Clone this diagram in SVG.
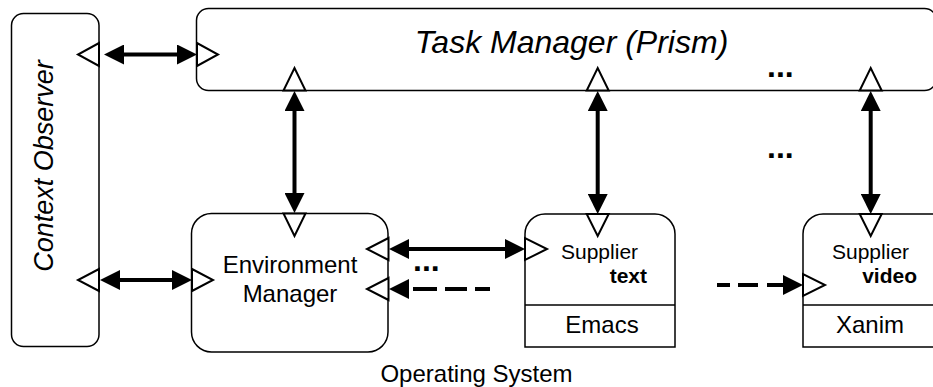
<svg xmlns="http://www.w3.org/2000/svg" width="933" height="387" viewBox="0 0 933 387">
<style>
.box{fill:#fff;stroke:#000;stroke-width:1.5}
.port{fill:#fff;stroke:#000;stroke-width:2;stroke-linejoin:miter}
.conn{stroke:#000;stroke-width:4;fill:none}
.dash{stroke:#000;stroke-width:4;fill:none}
.t{font-family:"Liberation Sans",Arial,sans-serif;fill:#000}
.it{font-style:italic}
.b{font-weight:bold}
</style>
<defs>
<marker id="head" markerUnits="userSpaceOnUse" markerWidth="20" markerHeight="20" viewBox="0 0 20 20" refX="0" refY="10" orient="auto-start-reverse">
<path d="M0,0 L20,10 L0,20 Z" fill="#000"/>
</marker>
</defs>
<g id="context-observer">
<rect class="box" x="11.5" y="13.5" width="87.5" height="333" rx="12"/>
<text class="t it" font-size="27" text-anchor="middle" transform="translate(53,166) rotate(-90)">Context Observer</text>
<polygon class="port" points="99,43 99,66 78,54.5"/>
<polygon class="port" points="99,269 99,291 78,280"/>
</g>
<g id="task-manager">
<rect class="box" x="196.5" y="8.5" width="740" height="82" rx="12"/>
<text class="t it" x="571.5" y="53" font-size="32" text-anchor="middle">Task Manager (Prism)</text>
<polygon class="port" points="197,43 197,66 218,54.5"/>
<polygon class="port" points="283.5,90.5 305.5,90.5 294.5,68"/>
<polygon class="port" points="586.7,90.5 608.7,90.5 597.7,68"/>
<polygon class="port" points="859.7,90.5 881.7,90.5 870.7,68"/>
</g>
<g id="environment-manager">
<rect class="box" x="191.5" y="213.5" width="196.5" height="138.5" rx="20"/>
<text class="t" x="290" y="273" font-size="24" text-anchor="middle">Environment</text>
<text class="t" x="290" y="302" font-size="24" text-anchor="middle">Manager</text>
<polygon class="port" points="192,269 192,291 213,280"/>
<polygon class="port" points="283.5,213.5 305.5,213.5 294.5,236"/>
<polygon class="port" points="388.5,238 388.5,260 367,249"/>
<polygon class="port" points="388.5,278 388.5,300 367,289"/>
</g>
<g id="supplier-text">
<path class="box" d="M525,347 V234 A20,20 0 0 1 545,214 H655 A20,20 0 0 1 675,234 V347 Z"/>
<line x1="525" y1="305" x2="675" y2="305" stroke="#000" stroke-width="1.5"/>
<text class="t" x="561" y="259" font-size="21">Supplier</text>
<text class="t b" x="647" y="283" font-size="21" text-anchor="end">text</text>
<text class="t" x="602" y="333" font-size="24" text-anchor="middle">Emacs</text>
<polygon class="port" points="586.7,214 608.7,214 597.7,236"/>
<polygon class="port" points="525,238 525,260 547,249"/>
</g>
<g id="supplier-video">
<path class="box" d="M803,347 V234 A20,20 0 0 1 823,214 H933 A20,20 0 0 1 953,234 V347 Z"/>
<line x1="803" y1="305" x2="953" y2="305" stroke="#000" stroke-width="1.5"/>
<text class="t" x="832" y="259" font-size="21">Supplier</text>
<text class="t b" x="917" y="283" font-size="21" text-anchor="end">video</text>
<text class="t" x="870" y="333" font-size="24" text-anchor="middle">Xanim</text>
<polygon class="port" points="859.7,214 881.7,214 870.7,236"/>
<polygon class="port" points="803,274 803,296 825,285"/>
</g>
<g id="connectors">
<line class="conn" x1="124" y1="54.5" x2="177" y2="54.5" marker-start="url(#head)" marker-end="url(#head)"/>
<line class="conn" x1="120" y1="280" x2="172" y2="280" marker-start="url(#head)" marker-end="url(#head)"/>
<line class="conn" x1="294.5" y1="111" x2="294.5" y2="193" marker-start="url(#head)" marker-end="url(#head)"/>
<line class="conn" x1="597.7" y1="111" x2="597.7" y2="194" marker-start="url(#head)" marker-end="url(#head)"/>
<line class="conn" x1="870.7" y1="111" x2="870.7" y2="194" marker-start="url(#head)" marker-end="url(#head)"/>
<line class="conn" x1="409" y1="249" x2="505" y2="249" marker-start="url(#head)" marker-end="url(#head)"/>
<line class="dash" x1="409" y1="289" x2="490" y2="289" stroke-dasharray="0 4 24 8 22 8 15" marker-start="url(#head)"/>
<line class="dash" x1="717" y1="285" x2="783" y2="285" stroke-dasharray="13 8 20 9 30" marker-end="url(#head)"/>
</g>
<g id="ellipses">
<text class="t b" x="413" y="271" font-size="32">...</text>
<text class="t b" x="767" y="76.5" font-size="32">...</text>
<text class="t b" x="767" y="157.5" font-size="32">...</text>
</g>
<text class="t" x="476.5" y="382" font-size="24" text-anchor="middle">Operating System</text>
</svg>
